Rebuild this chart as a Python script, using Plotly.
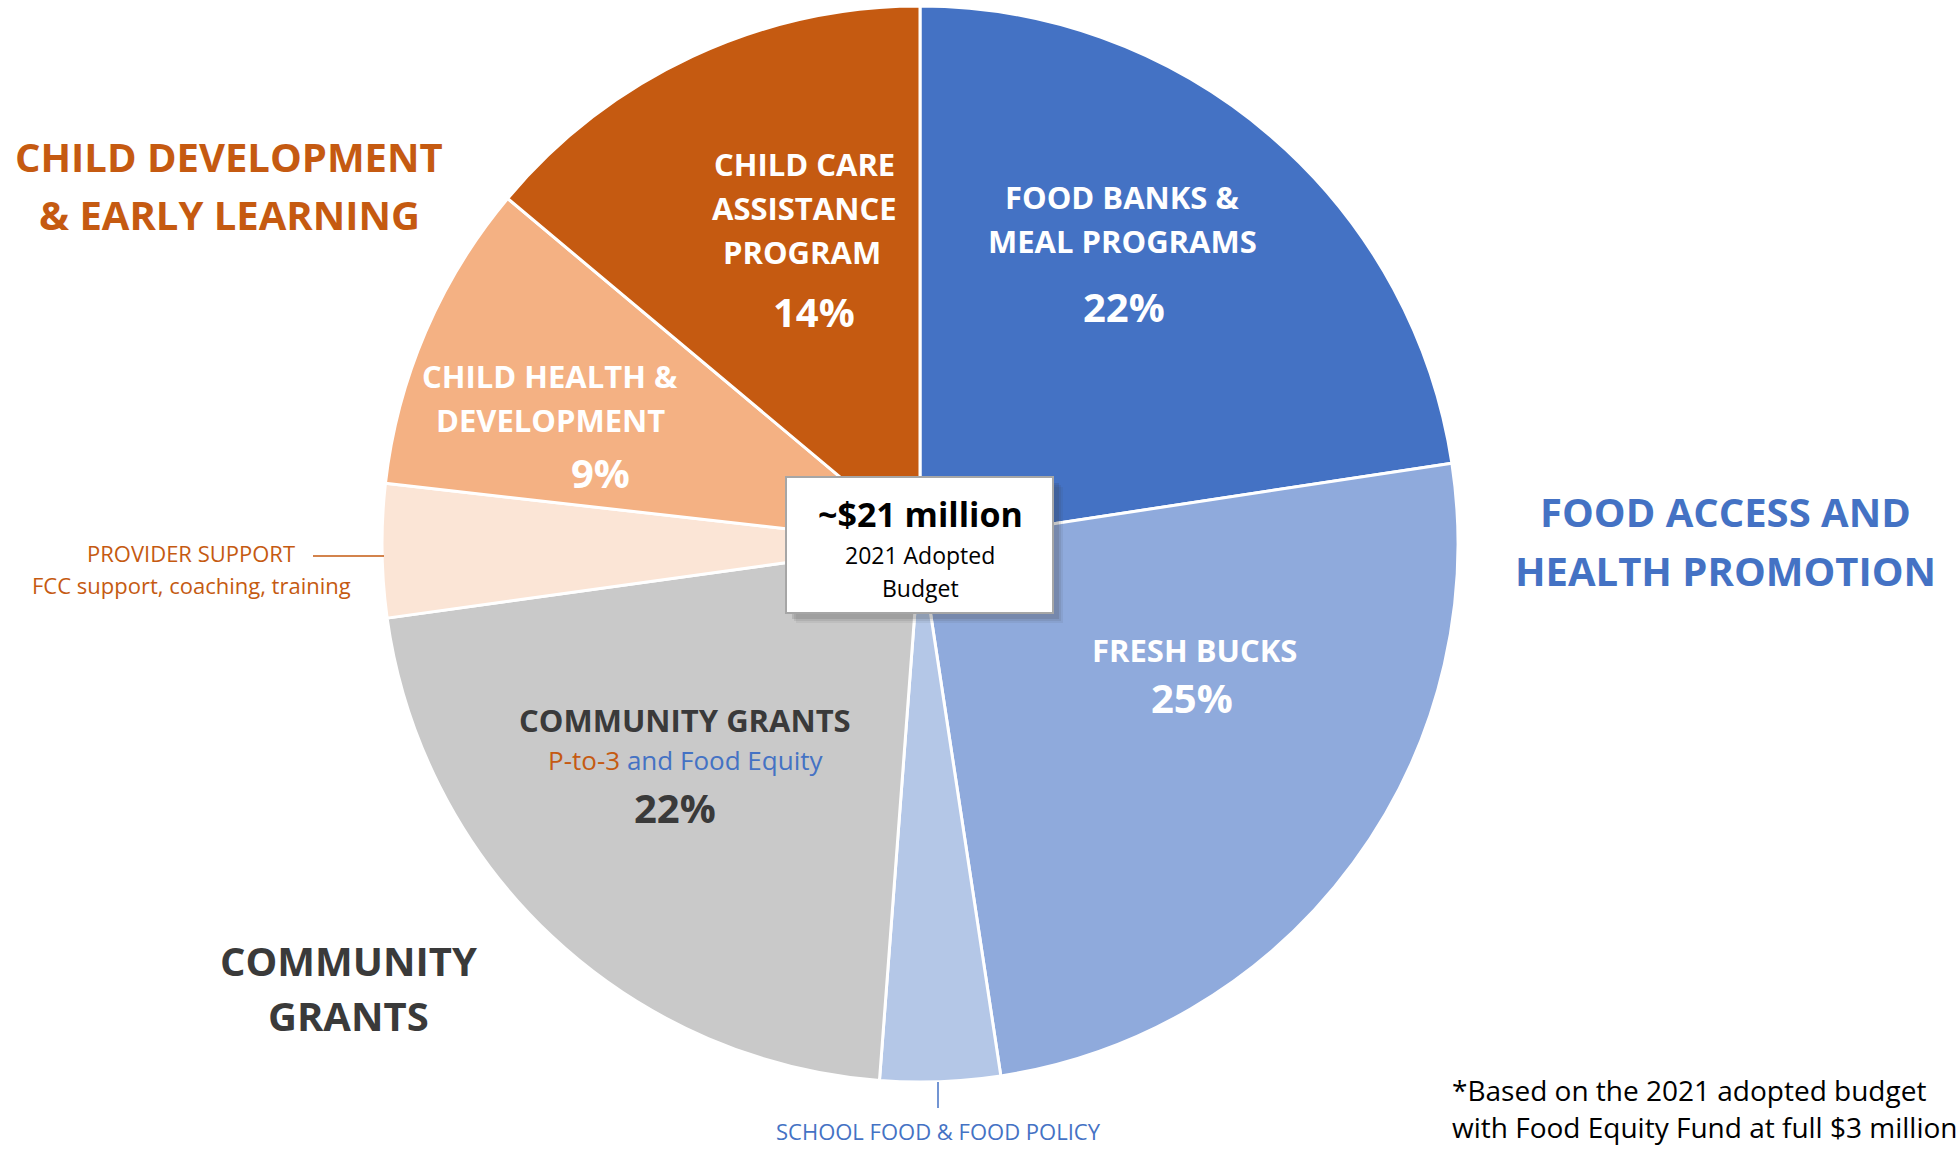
import plotly.graph_objects as go

W, H = 1960, 1149

# ---- data ----
slice_names = ["Food Banks & Meal Programs", "Fresh Bucks", "School Food & Food Policy",
               "Community Grants", "Provider Support", "Child Health & Development",
               "Child Care Assistance Program"]
slice_values = [22.6, 25.0, 3.6, 21.6, 4.0, 9.3, 13.9]
slice_colors = ["#4472C4", "#8FAADC", "#B4C7E7", "#C9C9C9", "#FBE5D6", "#F4B183", "#C55A11"]
pct_labels = ["22%", "25%", "", "22%", "", "9%", "14%"]

ORANGE = "#C55A11"
BLUE = "#4472C4"
DARK = "#3A3A3A"
FONT = "Open Sans"


def px(x):
    return x / W


def py(y):
    return 1 - y / H


cx, cy, r = 920, 544, 538

fig = go.Figure(go.Pie(
    labels=slice_names, values=slice_values, sort=False, direction="clockwise",
    rotation=0, textinfo="none", hoverinfo="label+percent",
    marker=dict(colors=slice_colors, line=dict(color="white", width=3)),
    domain=dict(x=[px(cx - r), px(cx + r)], y=[py(cy + r), py(cy - r)]),
    showlegend=False,
))

ann = []


def add(text, x, y, size, color, bold=True, xanchor="center", family=FONT):
    t = f"<b>{text}</b>" if bold else text
    ann.append(dict(text=t, x=px(x), y=py(y), xref="paper", yref="paper",
                    xanchor=xanchor, yanchor="middle", showarrow=False,
                    font=dict(family=family, size=size, color=color)))


# group headers
add("CHILD DEVELOPMENT", 229, 157, 40, ORANGE)
add("&amp; EARLY LEARNING", 229, 215, 40, ORANGE)
add("FOOD ACCESS AND", 1725, 512, 40, BLUE)
add("HEALTH PROMOTION", 1725, 570, 40, BLUE)
add("COMMUNITY", 348, 960, 40, DARK)
add("GRANTS", 348, 1015, 40, DARK)

# slice labels
LS = 31
add("CHILD CARE", 804, 164, LS, "white")
add("ASSISTANCE", 804, 208, LS, "white")
add("PROGRAM", 802, 252, LS, "white")
add(pct_labels[6], 814, 311, 40, "white")

add("FOOD BANKS &amp;", 1122, 197, LS, "white")
add("MEAL PROGRAMS", 1122, 241, LS, "white")
add(pct_labels[0], 1124, 307, 40, "white")

add("CHILD HEALTH &amp;", 550, 376, LS, "white")
add("DEVELOPMENT", 550, 420, LS, "white")
add(pct_labels[5], 600, 472, 40, "white")

add("FRESH BUCKS", 1194, 650, LS, "white")
add(pct_labels[1], 1192, 697, 40, "white")

add("COMMUNITY GRANTS", 685, 720, LS, DARK)
add(f"<span style='color:{ORANGE}'>P-to-3</span> and Food Equity", 685, 760, 26, BLUE, bold=False)
add(pct_labels[3], 675, 807, 40, DARK)

# small outside labels
add("PROVIDER SUPPORT", 191, 553, 22, ORANGE, bold=False)
add("FCC support, coaching, training", 191, 585, 22, ORANGE, bold=False)
add("SCHOOL FOOD &amp; FOOD POLICY", 938, 1131, 22, BLUE, bold=False)

# centre box text
add("~$21 million", 920, 514, 34, "black")
add("2021 Adopted", 920, 555, 23, "black", bold=False)
add("Budget", 920, 588, 23, "black", bold=False)

# footnote
add("*Based on the 2021 adopted budget", 1450, 1090, 28, "black", bold=False, xanchor="left")
add("with Food Equity Fund at full $3 million", 1450, 1127, 28, "black", bold=False, xanchor="left")

shapes = []


def rect(x0, y0, x1, y1, **kw):
    shapes.append(dict(type="rect", xref="paper", yref="paper",
                       x0=px(x0), x1=px(x1), y0=py(y1), y1=py(y0), **kw))


def line(x0, y0, x1, y1, color, width=1.5):
    shapes.append(dict(type="line", xref="paper", yref="paper",
                       x0=px(x0), x1=px(x1), y0=py(y0), y1=py(y1),
                       line=dict(color=color, width=width)))


# soft shadow + box
for off, op in [(10, 0.08), (8, 0.1), (6, 0.14)]:
    rect(786 + off, 477 + off, 1053 + off, 613 + off,
         fillcolor=f"rgba(60,60,60,{op})", line=dict(width=0))
rect(786, 477, 1053, 613, fillcolor="white", line=dict(color="#A6A6A6", width=2))

line(313, 556, 384, 556, ORANGE)
line(938, 1082, 938, 1108, BLUE)

fig.update_layout(
    width=W, height=H, margin=dict(l=0, r=0, t=0, b=0),
    paper_bgcolor="white", plot_bgcolor="white",
    annotations=ann, shapes=shapes,
)

fig.write_html("out.html", config={"displayModeBar": False},
               post_script="document.body.style.margin='0';document.body.style.overflow='hidden';")
